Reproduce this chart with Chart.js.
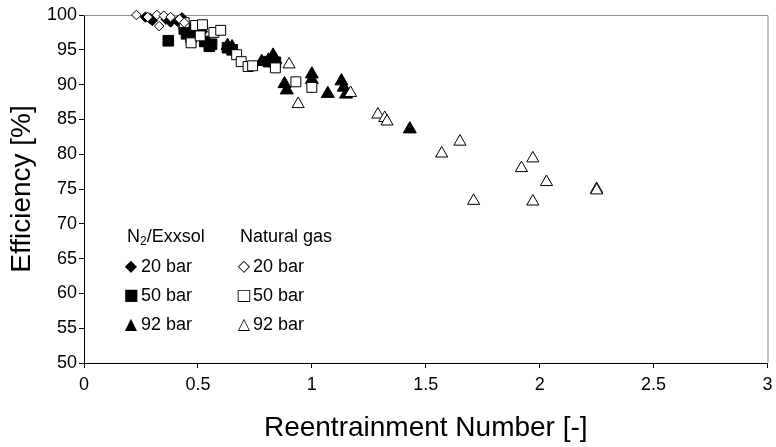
<!DOCTYPE html>
<html>
<head>
<meta charset="utf-8">
<script src="https://cdn.jsdelivr.net/npm/chart.js@4.4.0/dist/chart.umd.min.js"></script>
<style>
  html, body { margin: 0; padding: 0; background: #fff; }
  canvas { display: block; }
</style>
</head>
<body>
<canvas id="chart" width="776" height="447"></canvas>
<script>
// N2/Exxsol series
const n2Bar20X = [0.27, 0.29, 0.30, 0.36, 0.38, 0.41, 0.43, 0.45, 0.46, 0.50, 0.52];
const n2Bar20Y = [99.7, 99.5, 99.2, 99.4, 99.0, 99.1, 99.6, 98.5, 98.2, 98.0, 97.6];
const n2Bar50X = [0.37, 0.44, 0.45, 0.47, 0.50, 0.53, 0.55, 0.56, 0.63, 0.65, 0.81, 0.84];
const n2Bar50Y = [96.3, 98.0, 97.3, 96.8, 97.2, 96.2, 95.5, 95.8, 95.3, 95.0, 93.3, 93.2];
const n2Bar92X = [0.63, 0.65, 0.78, 0.81, 0.83, 0.84, 0.88, 0.89, 1.00, 1.00, 1.07, 1.13, 1.14, 1.15, 1.43];
const n2Bar92Y = [95.6, 95.4, 93.3, 93.5, 94.2, 93.6, 90.1, 89.2, 91.5, 90.7, 88.7, 90.5, 89.6, 88.6, 83.6];

// Natural gas series
const ngBar20X = [0.23, 0.28, 0.32, 0.33, 0.35, 0.38, 0.42, 0.44];
const ngBar20Y = [100.0, 99.7, 100.0, 98.4, 99.9, 99.7, 99.4, 98.9];
const ngBar50X = [0.44, 0.47, 0.49, 0.51, 0.52, 0.57, 0.60, 0.67, 0.69, 0.72, 0.74, 0.84, 0.93, 1.00];
const ngBar50Y = [98.9, 96.0, 98.5, 97.0, 98.6, 97.5, 97.8, 94.3, 93.3, 92.6, 92.7, 92.4, 90.4, 89.6];
const ngBar92X = [0.90, 0.94, 1.17, 1.29, 1.32, 1.33, 1.57, 1.65, 1.71, 1.92, 1.97, 1.97, 2.03, 2.25, 2.25];
const ngBar92Y = [92.9, 87.2, 88.8, 85.7, 85.2, 84.7, 80.1, 81.8, 73.3, 78.0, 79.4, 73.2, 76.0, 75.0, 74.8];

const FONT = "'Liberation Sans', Arial, Helvetica, sans-serif";

const toPoints = (xs, ys) => xs.map((x, i) => ({ x: x, y: ys[i] }));

const makeSet = (label, xs, ys, style, radius, filled, order) => ({
  label: label,
  data: toPoints(xs, ys),
  pointStyle: style,
  pointRadius: radius,
  pointBackgroundColor: filled ? "#000" : "#fff",
  pointBorderColor: "#000",
  pointBorderWidth: 1,
  showLine: false,
  clip: false,
  order: order,
});

// grey frame on top and right of the plot area
const frame = {
  id: "frame",
  beforeDatasetsDraw(chart) {
    const { ctx, chartArea } = chart;
    ctx.save();
    ctx.strokeStyle = "#8c8c8c";
    ctx.lineWidth = 1;
    ctx.beginPath();
    ctx.moveTo(chartArea.left, chartArea.top + 0.5);
    ctx.lineTo(chartArea.right + 0.5, chartArea.top + 0.5);
    ctx.lineTo(chartArea.right + 0.5, chartArea.bottom);
    ctx.stroke();
    ctx.restore();
  },
};

// legend drawn inside the plot, like the original figure
const notes = {
  id: "notes",
  afterDraw(chart) {
    const { ctx } = chart;
    ctx.save();
    ctx.fillStyle = "#000";
    ctx.textBaseline = "middle";
    ctx.font = "18px " + FONT;
    ctx.textAlign = "left";
    // header with subscript
    ctx.fillText("N", 127, 237);
    const nw = ctx.measureText("N").width;
    ctx.font = "12px " + FONT;
    ctx.fillText("2", 127 + nw, 242);
    const sw = ctx.measureText("2").width;
    ctx.font = "18px " + FONT;
    ctx.fillText("/Exxsol", 127 + nw + sw, 237);
    ctx.fillText("Natural gas", 240, 237);

    const rows = [["\u25C6", "\u25C7", "20 bar", 267], ["\u25A0", "\u25A1", "50 bar", 296], ["\u25B2", "\u25B3", "92 bar", 325]];
    rows.forEach(([a, b, txt, y]) => {
      ctx.font = "16px 'DejaVu Sans', sans-serif";
      ctx.textAlign = "center";
      ctx.fillText(a, 131, y);
      ctx.fillText(b, 244, y);
      ctx.font = "18px " + FONT;
      ctx.textAlign = "left";
      ctx.fillText(txt, 141, y);
      ctx.fillText(txt, 253, y);
    });
    ctx.restore();
  },
};

new Chart(document.getElementById("chart"), {
  type: "scatter",
  data: {
    datasets: [
      makeSet("NG 20 bar", ngBar20X, ngBar20Y, "rectRot", 4.8, false, 1),
      makeSet("NG 50 bar", ngBar50X, ngBar50Y, "rect", 7, false, 2),
      makeSet("NG 92 bar", ngBar92X, ngBar92Y, "triangle", 7, false, 3),
      makeSet("N2 20 bar", n2Bar20X, n2Bar20Y, "rectRot", 5.2, true, 4),
      makeSet("N2 50 bar", n2Bar50X, n2Bar50Y, "rect", 7.5, true, 5),
      makeSet("N2 92 bar", n2Bar92X, n2Bar92Y, "triangle", 7.5, true, 6),
    ],
  },
  options: {
    responsive: false,
    animation: false,
    devicePixelRatio: 1,
    layout: { padding: { top: 15, right: 5, left: 0, bottom: 0 } },
    plugins: {
      legend: { display: false },
      tooltip: { enabled: false },
    },
    scales: {
      x: {
        type: "linear",
        min: 0,
        max: 3,
        ticks: {
          stepSize: 0.5,
          color: "#000",
          padding: 6,
          maxRotation: 0,
          font: { family: FONT, size: 18 },
          callback: (v) => String(v),
        },
        grid: { drawOnChartArea: false, drawTicks: true, tickLength: 5, color: "#000" },
        border: { display: true, color: "#000", width: 1 },
        title: {
          display: true,
          text: "Reentrainment Number [-]",
          color: "#000",
          font: { family: FONT, size: 28 },
          padding: { top: 0, bottom: 2 },
        },
        afterFit(scale) {
          scale.height = 84;
          scale.paddingLeft = 0;
          scale.paddingRight = 0;
        },
      },
      y: {
        type: "linear",
        min: 50,
        max: 100,
        ticks: {
          stepSize: 5,
          color: "#000",
          padding: 2,
          font: { family: FONT, size: 18 },
        },
        grid: { drawOnChartArea: false, drawTicks: true, tickLength: 5, color: "#000" },
        border: { display: true, color: "#000", width: 1 },
        title: {
          display: true,
          text: "Efficiency [%]",
          color: "#000",
          font: { family: FONT, size: 28 },
          padding: { top: 5, bottom: 0 },
        },
        afterFit(scale) {
          scale.width = 84;
          scale.paddingTop = 0;
          scale.paddingBottom = 0;
        },
      },
    },
  },
  plugins: [frame, notes],
});
</script>
</body>
</html>
